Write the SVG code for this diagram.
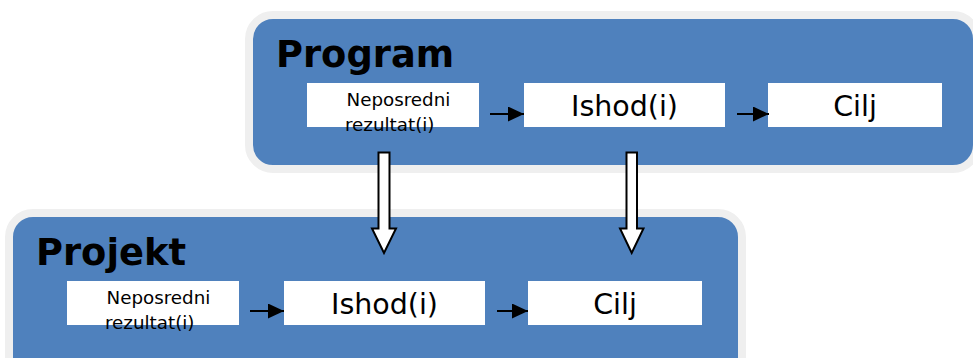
<svg xmlns="http://www.w3.org/2000/svg" width="973" height="358" viewBox="0 0 973 358">
  <style>
    .panel { fill: #4f81bd; stroke: #efefef; stroke-width: 8; }
    .box { fill: #ffffff; }
    .title { font-family: "DejaVu Sans", sans-serif; font-weight: bold; font-size: 36.8px; fill: #000; }
    .small { font-family: "DejaVu Sans", sans-serif; font-size: 18.3px; fill: #000; }
    .big { font-family: "DejaVu Sans", sans-serif; font-size: 28.5px; fill: #000; text-anchor: middle; }
    .line { stroke: #000; stroke-width: 2; fill: none; }
    .hollow { fill: #ffffff; stroke: #000; stroke-width: 2; stroke-linejoin: miter; }
  </style>
  <defs>
    <marker id="ah" markerWidth="16" markerHeight="15" refX="16" refY="7.5" orient="auto" markerUnits="userSpaceOnUse">
      <path d="M0,0 L16,7.5 L0,15 Z" fill="#000"/>
    </marker>
  </defs>

  <g id="program">
    <rect class="panel" x="249" y="15" width="728" height="154" rx="24" ry="24"/>
    <text class="title" x="276" y="67">Program</text>
  </g>
  <g id="projekt">
    <rect class="panel" x="9" y="213" width="733" height="170" rx="24" ry="24"/>
    <text class="title" x="36" y="265">Projekt</text>
  </g>

  <g id="program-neposredni">
    <rect class="box" x="307" y="83" width="172" height="44"/>
    <text class="small" x="346.5" y="106">Neposredni</text>
    <text class="small" x="345" y="131">rezultat(i)</text>
  </g>
  <g id="program-ishod">
    <rect class="box" x="524" y="83" width="201" height="44"/>
    <text class="big" x="624.5" y="116">Ishod(i)</text>
  </g>
  <g id="program-cilj">
    <rect class="box" x="768" y="83" width="174" height="44"/>
    <text class="big" x="855" y="116">Cilj</text>
  </g>

  <g id="projekt-neposredni">
    <rect class="box" x="67" y="281" width="172" height="44"/>
    <text class="small" x="106.5" y="304">Neposredni</text>
    <text class="small" x="105" y="329">rezultat(i)</text>
  </g>
  <g id="projekt-ishod">
    <rect class="box" x="284" y="281" width="201" height="44"/>
    <text class="big" x="384.5" y="314">Ishod(i)</text>
  </g>
  <g id="projekt-cilj">
    <rect class="box" x="528" y="281" width="174" height="44"/>
    <text class="big" x="615" y="314">Cilj</text>
  </g>

  <g id="connectors">
    <line class="line" x1="490" y1="114" x2="524" y2="114" marker-end="url(#ah)"/>
    <line class="line" x1="737" y1="114" x2="769" y2="114" marker-end="url(#ah)"/>
    <line class="line" x1="250" y1="311" x2="284" y2="311" marker-end="url(#ah)"/>
    <line class="line" x1="497" y1="311" x2="528" y2="311" marker-end="url(#ah)"/>
    <path class="hollow" d="M378.5,152.5 L389.5,152.5 L389.5,228.5 L396,228.5 L384,253 L372,228.5 L378.5,228.5 Z"/>
    <path class="hollow" d="M626.5,152.5 L637,152.5 L637,228.5 L643.5,228.5 L631.7,253 L620,228.5 L626.5,228.5 Z"/>
  </g>
</svg>
